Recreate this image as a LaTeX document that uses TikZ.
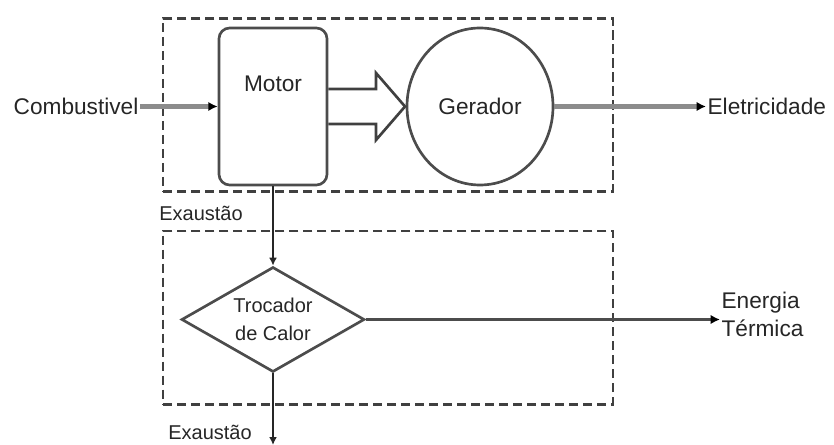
\documentclass[tikz,border=0pt]{standalone}
\usepackage{fontspec}
\setmainfont{Liberation Sans}
\usetikzlibrary{shapes,arrows.meta,positioning,calc}
\tikzstyle{grupo}=[shape=rectangle,draw=black!75,line width=2pt,dash pattern=on 7pt off 3.5pt,minimum width=337.5pt,minimum height=130pt]
\tikzstyle{bloco}=[shape=rectangle,rounded corners=8pt,draw=black!70,line width=2pt,minimum width=81pt,minimum height=117.75pt]
\tikzstyle{maquina}=[shape=ellipse,draw=black!70,line width=2pt,minimum width=109.5pt,minimum height=117.75pt]
\tikzstyle{troca}=[shape=diamond,draw=black!70,line width=2pt,aspect=1.75,inner sep=0pt,minimum width=137.25pt,minimum height=78.75pt,align=center]
\tikzstyle{fluxo}=[-{Latex[length=7pt,width=7pt,black]},line width=3.5pt,draw=black!45]
\tikzstyle{calor}=[-{Latex[length=7pt,width=7pt,black]},line width=2.2pt,draw=black!70]
\tikzstyle{gas}=[-{Latex[length=6pt,width=6pt]},line width=1.5pt,draw=black!85]
\tikzstyle{rotulo}=[font=\fontsize{17}{21}\selectfont,text=black!85,inner sep=1pt]
\tikzstyle{rotulop}=[font=\fontsize{15}{21}\selectfont,text=black!85,inner sep=1pt]

\begin{document}
\begin{tikzpicture}[x=0.75pt,y=-0.75pt]
 \useasboundingbox (0,0) rectangle (834,445);

 % caixas tracejadas
 \node[grupo] (caixa1) at (388,105) {};
 \node[grupo] (caixa2) at (388,317.5) {};

 % gerador a motor
 \node[bloco,label={[rotulo,yshift=-50pt]north:Motor}] (motor) at (273,106.5) {};
 \node[maquina,rotulo] (gerador) at (480,106.5) {Gerador};

 \draw[draw=black!75,line width=2pt,line join=miter]
  (motor.east |- 0,89) -- (376,89) -- (376,73) -- (405,106.5)
  -- (376,140) -- (376,124) -- (motor.east |- 0,124);

 \node[rotulo,anchor=east] (comb) at (140,106.5) {Combustivel};
 \node[rotulo,anchor=west] (eletr) at (706,106.5) {Eletricidade};

 % recuperacao de calor
 \node[troca,rotulop] (trocador) at (273,319.5) {Trocador\\de Calor};
 \node[rotulo,anchor=west,align=left] (termica) at (720,314) {Energia\\Térmica};
 \coordinate (saida) at (273,445);

 \node[rotulop] (exaust1) at (201,213) {Exaustão};
 \node[rotulop] (exaust2) at (210,432) {Exaustão};

\path
(comb.east) edge [fluxo] (motor.west)
(gerador) edge [fluxo] (eletr.west)

(motor) edge [gas] (trocador)
(trocador) edge [calor] (trocador -| termica.west)
(trocador) edge [gas] (saida);

\end{tikzpicture}
\end{document}
